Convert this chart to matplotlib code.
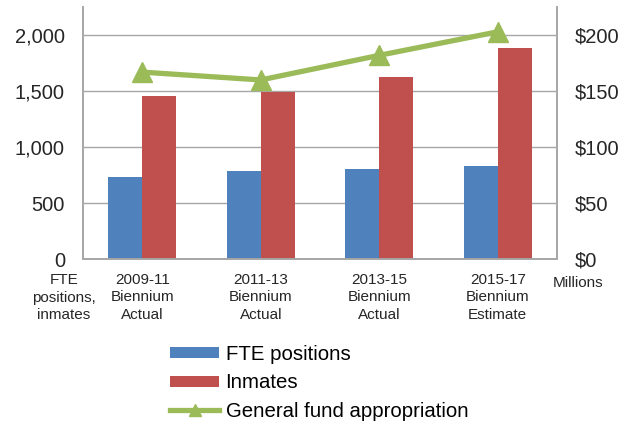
import matplotlib.pyplot as plt
import numpy as np

plt.rcParams['font.family'] = ['Liberation Sans', 'DejaVu Sans']

categories = ["2009-11\nBiennium\nActual", "2011-13\nBiennium\nActual",
              "2013-15\nBiennium\nActual", "2015-17\nBiennium\nEstimate"]
fte_positions = [732, 786, 804, 830]
inmates = [1458, 1488, 1628, 1887]
general_fund = [167, 160, 182, 203]  # millions of dollars

blue = "#4F81BD"
red = "#C0504D"
green = "#9BBB59"
grid_gray = "#A6A6A6"
text_col = "#262626"

fig = plt.figure(figsize=(6.34, 4.22), dpi=100)
ax = fig.add_axes([0.131, 0.386, 0.7475, 0.597])
ax2 = ax.twinx()

x = np.arange(len(categories))
w = 0.287
ax.bar(x - w / 2, fte_positions, w, color=blue, label="FTE positions", zorder=2)
ax.bar(x + w / 2, inmates, w, color=red, label="Inmates", zorder=2)
ax2.plot(x, general_fund, color=green, lw=3.8, marker="^", ms=14,
         label="General fund appropriation", zorder=3)

ax.set_xlim(-0.5, len(categories) - 0.5)
ax.set_ylim(0, 2250)
ax2.set_ylim(0, 225)
ax.set_yticks(range(0, 2001, 500))
ax.set_yticklabels([f"{v:,}" for v in range(0, 2001, 500)])
ax2.set_yticks(range(0, 201, 50))
ax2.set_yticklabels([f"${v}" for v in range(0, 201, 50)])
ax.set_xticks(x)
ax.set_xticklabels(categories, fontsize=11, color=text_col, linespacing=1.3)

ax.yaxis.grid(True, color=grid_gray, lw=1, zorder=0)
ax.set_axisbelow(True)
for a in (ax, ax2):
    a.tick_params(axis="y", length=0, labelsize=14.5, colors=text_col)
    a.spines["top"].set_visible(False)
    for s in ("left", "right", "bottom"):
        a.spines[s].set_color(grid_gray)
        a.spines[s].set_linewidth(1.2)
ax.tick_params(axis="x", length=0, pad=10, colors=text_col)
ax.tick_params(axis="y", pad=13)
ax2.tick_params(axis="y", pad=13)

fig.text(0.101, 0.352, "FTE\npositions,\ninmates", ha="center", va="top",
         fontsize=11, color=text_col, linespacing=1.3)
fig.text(0.912, 0.329, "Millions", ha="center", va="center",
         fontsize=11, color=text_col)

h1, l1 = ax.get_legend_handles_labels()
h2, l2 = ax2.get_legend_handles_labels()
fig.legend(h1 + h2, l1 + l2, loc="upper left", bbox_to_anchor=(0.256, 0.202),
           frameon=False, fontsize=14.7, handlelength=2.4, handleheight=0.45,
           handletextpad=0.3, labelspacing=0.46, borderaxespad=0,
           markerscale=0.6)

fig.savefig("out.png", dpi=100)
